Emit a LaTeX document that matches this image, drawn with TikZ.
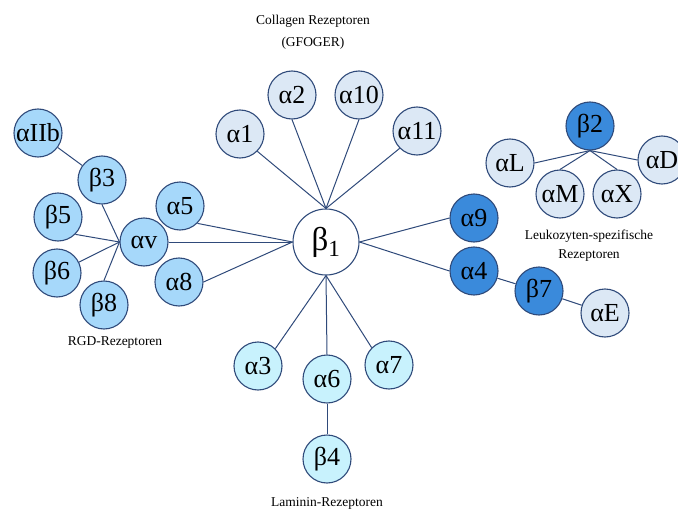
\documentclass[tikz,border=0pt]{standalone}
\usepackage{fontspec}
\setmainfont{Liberation Serif}
\definecolor{edge}{HTML}{2F4A7A}
\definecolor{rgd}{HTML}{A6D8FA}
\definecolor{coll}{HTML}{DCE8F5}
\definecolor{lam}{HTML}{C8F2FD}
\definecolor{leuk}{HTML}{3A8ADB}
\begin{document}
\begin{tikzpicture}[x=1pt,y=-1pt,
  rec/.style={circle,draw=edge,line width=1.1pt,minimum size=48pt,inner sep=0pt,
    font=\fontsize{26}{26}\selectfont},
  rgdn/.style={rec,fill=rgd},
  colln/.style={rec,fill=coll},
  lamn/.style={rec,fill=lam},
  leukn/.style={rec,fill=leuk},
  link/.style={draw=edge,line width=1pt},
  captxt/.style={font=\fontsize{13.5}{19}\selectfont,align=center,inner sep=0pt}]
\useasboundingbox (0,0) rectangle (678,511);
% RGD
\node[rgdn] (aIIb) at (38,133) {αIIb};
\node[rgdn] (b3) at (102,180) {β3};
\node[rgdn] (b5) at (58,217) {β5};
\node[rgdn] (b6) at (57,273) {β6};
\node[rgdn] (b8) at (104,305) {β8};
\node[rgdn] (av) at (144,242) {αv};
\node[rgdn] (a5) at (180,206) {α5};
\node[rgdn] (a8) at (179,282) {α8};
% collagen
\node[colln] (a1) at (240,134) {α1};
\node[colln] (a2) at (292,95) {α2};
\node[colln] (a10) at (359,95) {α10};
\node[colln] (a11) at (417,131) {α11};
% center
\node[rec,fill=white,minimum size=66pt,font=\fontsize{33}{33}\selectfont] (b1) at (326,242) {β\textsubscript{1}};
% leukocytes
\node[leukn] (a9) at (474,218) {α9};
\node[leukn] (a4) at (474,271) {α4};
\node[leukn] (b7) at (539,291) {β7};
\node[colln] (aE) at (605,313) {αE};
\node[leukn] (b2) at (590,126) {β2};
\node[colln] (aL) at (510,163) {αL};
\node[colln] (aM) at (560,194) {αM};
\node[colln] (aX) at (617,194) {αX};
\node[colln] (aD) at (662,160) {αD};
% laminin
\node[lamn] (a3) at (258,366) {α3};
\node[lamn] (a6) at (327,379) {α6};
\node[lamn] (a7) at (389,365) {α7};
\node[lamn] (b4) at (327,459) {β4};
% captions
\node[captxt,font=\fontsize{13.5}{22}\selectfont] (tcoll) at (313,32) {Collagen Rezeptoren\\(GFOGER)};
\node[captxt] (tleuk) at (589,246) {Leukozyten-spezifische\\Rezeptoren};
\node[captxt] (trgd) at (115,342) {RGD-Rezeptoren};
\node[captxt] (tlam) at (327,503) {Laminin-Rezeptoren};
% connectors
\draw[link] (aIIb) -- (b3);
\draw[link] (b3.south) -- (av.west);
\draw[link] (b5.south east) -- (av.west);
\draw[link] (b6) -- (av.west);
\draw[link] (b8.north) -- (av.west);
\draw[link] (av.east) -- (b1.west);
\draw[link] (a5.south east) -- (b1.west);
\draw[link] (a8.east) -- (b1.west);
\draw[link] (a1.south east) -- (b1.north);
\draw[link] (a2.south) -- (b1.north);
\draw[link] (a10.south) -- (b1.north);
\draw[link] (a11.south west) -- (b1.north);
\draw[link] (b1.east) -- (a9.west);
\draw[link] (b1.east) -- (a4.west);
\draw[link] (a4) -- (b7);
\draw[link] (b7) -- (aE);
\draw[link] (b2.south) -- (aL.east);
\draw[link] (b2.south) -- (aM.north);
\draw[link] (b2.south) -- (aX.north);
\draw[link] (b2.south) -- (aD.west);
\draw[link] (b1.south) -- (a3.north east);
\draw[link] (b1.south) -- (a6.north);
\draw[link] (b1.south) -- (a7.north west);
\draw[link] (a6) -- (b4);
\end{tikzpicture}
\end{document}
